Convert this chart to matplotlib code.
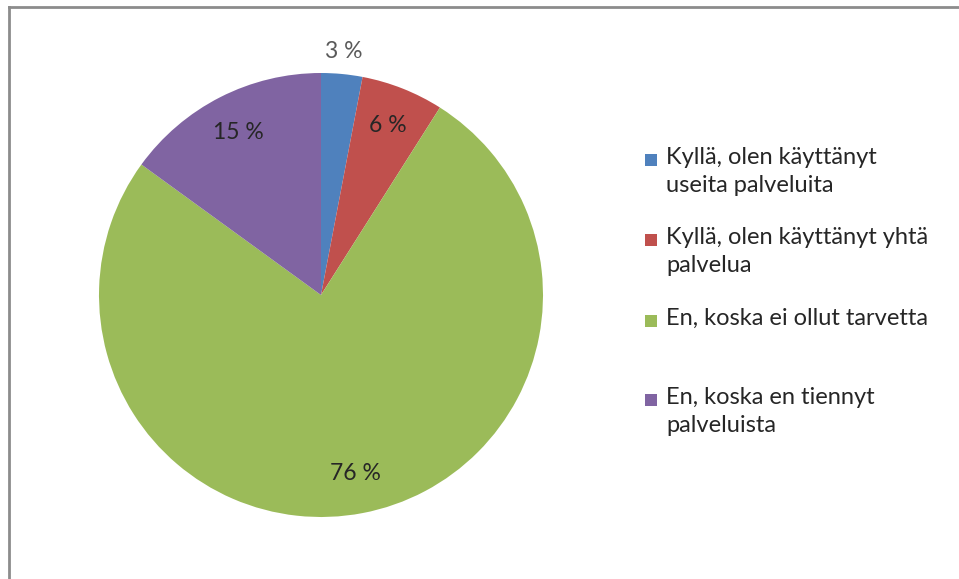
import numpy as np
import matplotlib.pyplot as plt
from matplotlib.lines import Line2D
from matplotlib.patches import Rectangle

plt.rcParams['font.family'] = ['Lato', 'DejaVu Sans']

# data
labels = ["Kyllä, olen käyttänyt\nuseita palveluita",
          "Kyllä, olen käyttänyt yhtä\npalvelua",
          "En, koska ei ollut tarvetta",
          "En, koska en tiennyt\npalveluista"]
values = [3, 6, 76, 15]
pct_text = ["3 %", "6 %", "76 %", "15 %"]
colors = ['#4F81BD', '#C0504D', '#9BBB59', '#8064A2']

W, H = 959, 579
fig = plt.figure(figsize=(W / 100, H / 100), dpi=100)

# pie axes: centre (321, 295) px, radius 222 px
cx, cy, r = 321, 295, 222
ax = fig.add_axes([(cx - r) / W, (H - cy - r) / H, 2 * r / W, 2 * r / H])
wedges, _ = ax.pie(values, colors=colors, startangle=90, counterclock=False,
                   radius=1, wedgeprops=dict(linewidth=0))
ax.set_xlim(-1, 1)
ax.set_ylim(-1, 1)
ax.set_aspect('equal')
ax.axis('off')

# percentage labels
for i, w in enumerate(wedges):
    mid = np.deg2rad((w.theta1 + w.theta2) / 2)
    dist = 1.1 if values[i] < 5 else 0.82
    col = '#5a5a5a' if values[i] < 5 else '#262626'
    ax.text(dist * np.cos(mid), dist * np.sin(mid), pct_text[i],
            ha='center', va='center', fontsize=16.5, color=col)

# legend drawn by hand
leg_y = [160, 240, 321, 400]
for i, lab in enumerate(labels):
    y = leg_y[i]
    fig.patches.append(Rectangle((645 / W, 1 - (y + 6) / H), 12 / W, 12 / H,
                                 transform=fig.transFigure, facecolor=colors[i],
                                 edgecolor='none'))
    fig.text(666 / W, 1 - (y - 13) / H, lab, ha='left', va='top',
             fontsize=17, color='#262626', linespacing=1.4)

# frame lines (top and left)
fig.add_artist(Line2D([9 / W, 1], [1 - 7 / H, 1 - 7 / H], transform=fig.transFigure,
                      color='#8c8c8c', linewidth=2))
fig.add_artist(Line2D([9 / W, 9 / W], [1 - 7 / H, 0], transform=fig.transFigure,
                      color='#8c8c8c', linewidth=2))

fig.savefig('out.png', dpi=100)
